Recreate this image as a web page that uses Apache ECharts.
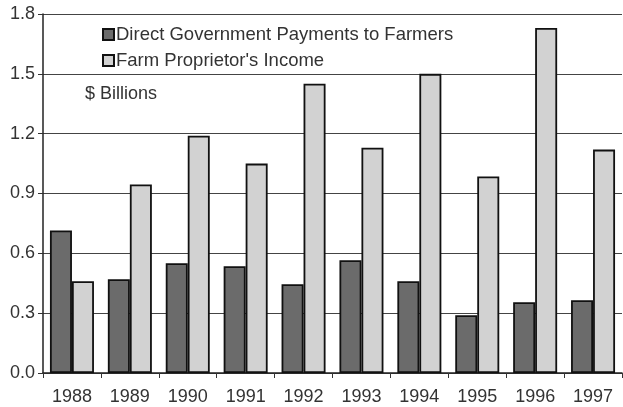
<!DOCTYPE html>
<html>
<head>
<meta charset="utf-8">
<script src="https://cdn.jsdelivr.net/npm/echarts@6/dist/echarts.min.js"></script>
<style>
  html, body { margin: 0; padding: 0; background: #fff; }
  #chart { width: 623px; height: 407px; }
</style>
</head>
<body>
<div id="chart"></div>
<script>
// Years along the horizontal axis
const years = ['1988', '1989', '1990', '1991', '1992', '1993', '1994', '1995', '1996', '1997'];
// Direct government payments to farmers, $ billions
const govPayments = [0.715, 0.47, 0.55, 0.535, 0.445, 0.565, 0.46, 0.29, 0.355, 0.365];
// Farm proprietor's income, $ billions
const proprietorIncome = [0.46, 0.945, 1.19, 1.05, 1.45, 1.13, 1.5, 0.985, 1.73, 1.12];
// Value axis ticks
const yTicks = [0.0, 0.3, 0.6, 0.9, 1.2, 1.5, 1.8];

const font = '"Liberation Sans", Arial, Helvetica, sans-serif';
const textColor = '#333333';
const chart = echarts.init(document.getElementById('chart'), null, { renderer: 'canvas' });

chart.setOption({
  backgroundColor: '#ffffff',
  animation: false,
  textStyle: { fontFamily: font },
  grid: { left: 43, right: 1, top: 14, bottom: 34 },
  title: {
    text: '$ Billions',
    left: 80, top: 80,
    textStyle: { fontFamily: font, fontSize: 18, fontWeight: 'normal', color: textColor }
  },
  legend: {
    orient: 'vertical',
    left: 97, top: 20,
    itemWidth: 11, itemHeight: 11, itemGap: 7,
    icon: 'rect',
    textStyle: { fontFamily: font, fontSize: 18.5, color: textColor, padding: [0, 0, 0, -3] },
    data: ['Direct Government Payments to Farmers', "Farm Proprietor's Income"]
  },
  xAxis: {
    type: 'category',
    data: years,
    axisLine: { lineStyle: { color: '#222', width: 1.5 } },
    axisTick: { show: true, length: 5, lineStyle: { color: '#333' } },
    axisLabel: { fontFamily: font, fontSize: 18, color: textColor, margin: 15 }
  },
  yAxis: {
    type: 'value',
    min: yTicks[0], max: yTicks[yTicks.length - 1], interval: 0.3,
    axisLine: { show: true, lineStyle: { color: '#222', width: 1.5 } },
    axisTick: { show: true, length: 5, lineStyle: { color: '#333' } },
    axisLabel: {
      fontFamily: font, fontSize: 18, color: textColor, margin: 8,
      formatter: v => v.toFixed(1)
    },
    splitLine: { lineStyle: { color: '#444', width: 1.2 } }
  },
  series: [
    {
      name: 'Direct Government Payments to Farmers',
      type: 'bar',
      data: govPayments,
      barWidth: 22,
      barGap: '0%',
      itemStyle: { color: '#6b6b6b', borderColor: '#111', borderWidth: 1.8 }
    },
    {
      name: "Farm Proprietor's Income",
      type: 'bar',
      data: proprietorIncome,
      barWidth: 22,
      barGap: '0%',
      itemStyle: { color: '#d2d2d2', borderColor: '#111', borderWidth: 1.8 }
    }
  ]
});
</script>
</body>
</html>
